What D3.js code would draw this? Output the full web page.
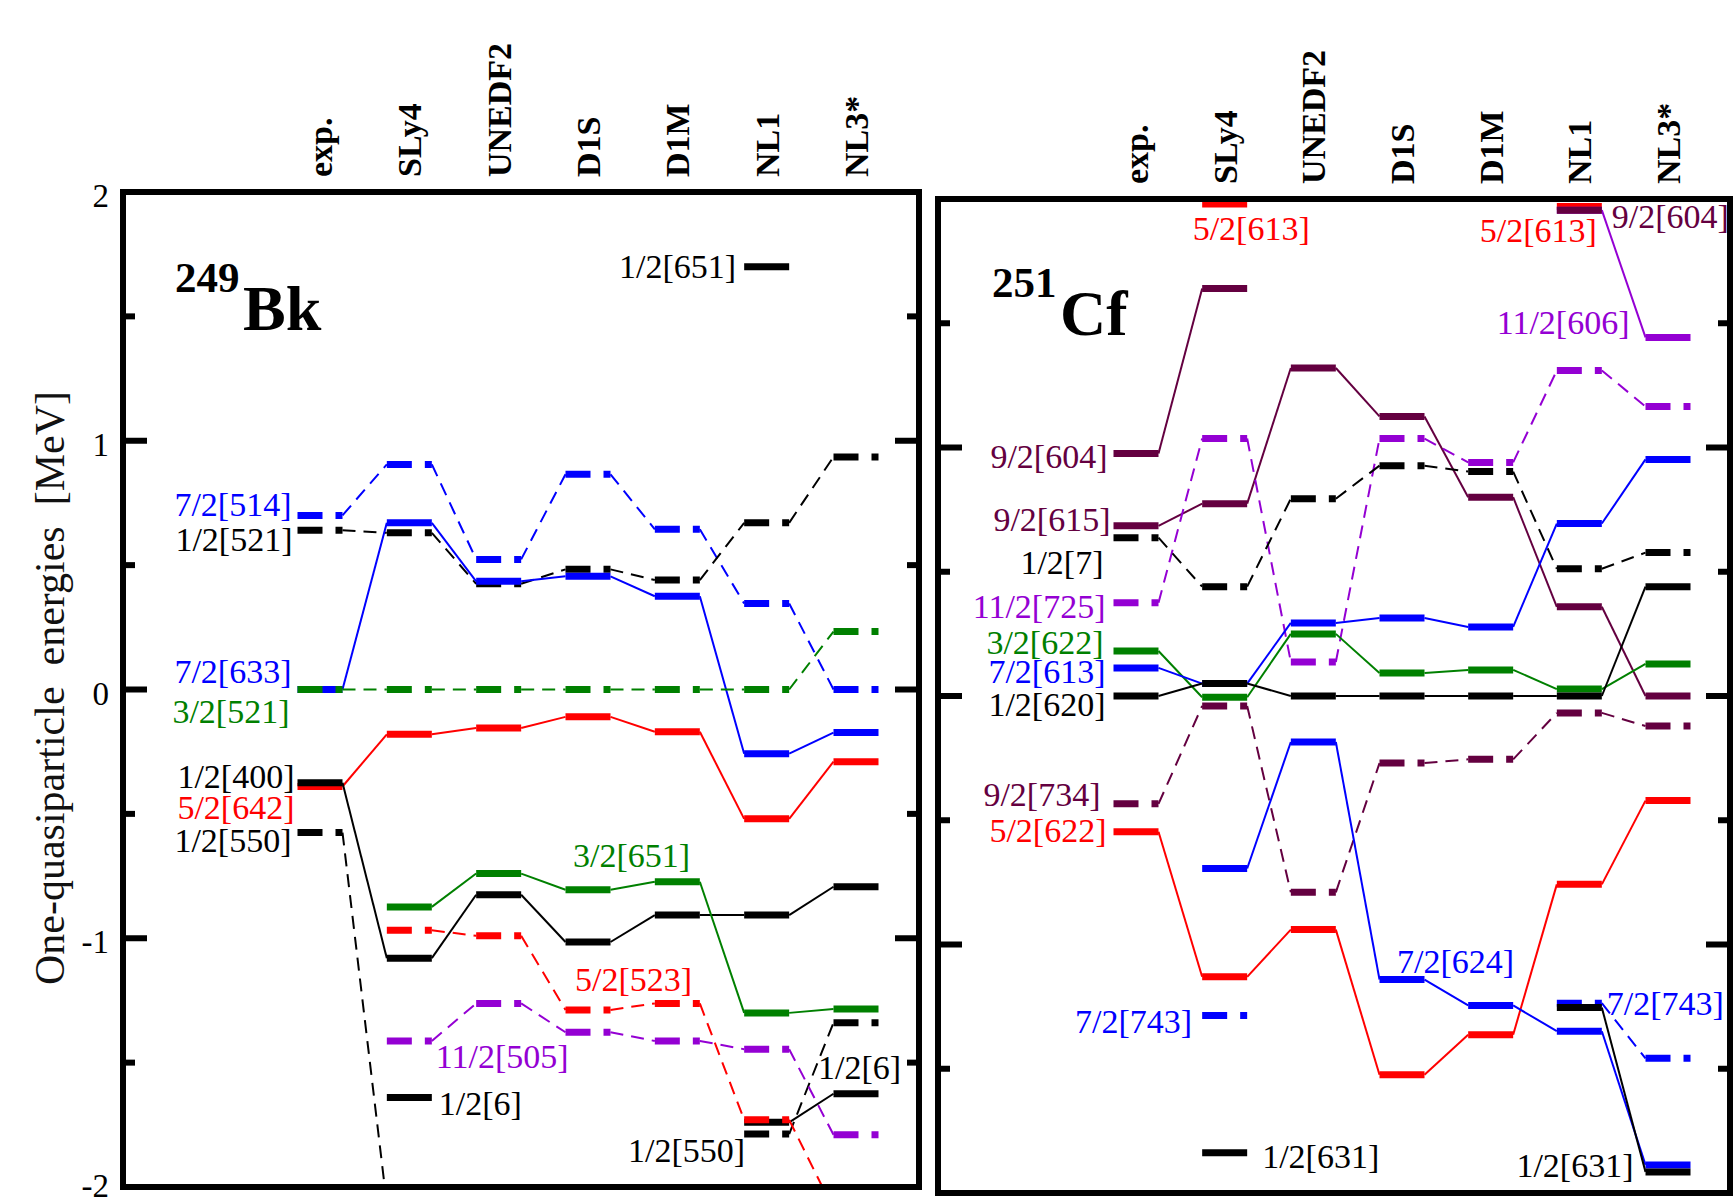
<!DOCTYPE html>
<html>
<head>
<meta charset="utf-8">
<script src="https://cdn.jsdelivr.net/npm/d3@7"></script>
<style>
  body { margin: 0; background: #fff; }
</style>
</head>
<body>
<div id="chart"></div>
<script>
// model columns and axis ticks
const columns = ["exp.", "SLy4", "UNEDF2", "D1S", "D1M", "NL1", "NL3*"];
const majorTicks = [-2, -1, 0, 1, 2];
const minorTicks = [-1.5, -0.5, 0.5, 1.5];

// 249Bk levels (MeV), one value per column, null = not shown
const bk514  = [0.70, 0.905, 0.523, 0.865, 0.644, 0.346, 0.0];
const bk521  = [0.64, 0.63, 0.425, 0.483, 0.44, 0.67, 0.935];
const bk633  = [0.0, 0.67, 0.435, 0.455, 0.375, -0.258, -0.173];
const bk521g = [0.0, 0.0, 0.0, 0.0, 0.0, 0.0, 0.233];
const bk642  = [-0.39, -0.18, -0.155, -0.11, -0.17, -0.52, -0.29];
const bk400  = [-0.375, -1.08, -0.825, -1.015, -0.907, -0.907, -0.793];
const bk550  = [-0.575, -2.07, null, null, null, -1.787, -1.34];
const bk6    = [null, -1.64, null, null, null, -1.74, -1.625];
const bk523  = [null, -0.968, -0.99, -1.288, -1.262, -1.73, -2.09];
const bk651g = [null, -0.874, -0.74, -0.805, -0.773, -1.30, -1.284];
const bk505  = [null, -1.413, -1.262, -1.378, -1.413, -1.446, -1.79];
const bk651  = [null, null, null, null, null, 1.70, null];

// 251Cf levels (MeV)
const cf613r = [null, 1.98, null, null, null, 1.97, null];
const cf606  = [null, null, null, null, null, 1.955, 1.443];
const cf604  = [0.976, 1.64, null, null, null, 1.955, null];
const cf615  = [0.685, 0.774, 1.32, 1.125, 0.80, 0.359, 0.0];
const cf725  = [0.375, 1.036, 0.137, 1.036, 0.94, 1.31, 1.165];
const cf770  = [0.637, 0.44, 0.794, 0.927, 0.903, 0.512, 0.577];
const cf622g = [0.181, -0.005, 0.25, 0.093, 0.105, 0.028, 0.129];
const cf613b = [0.113, 0.05, 0.294, 0.314, 0.278, 0.694, 0.952];
const cf620  = [0.0, 0.05, 0.0, 0.0, 0.0, 0.0, 0.44];
const cf734  = [-0.434, -0.04, -0.79, -0.27, -0.255, -0.068, -0.121];
const cf622r = [-0.546, -1.13, -0.94, -1.524, -1.363, -0.758, -0.421];
const cf624  = [null, -0.694, -0.185, -1.141, -1.245, -1.349, -1.887];
const cf743  = [null, -1.286, null, null, null, -1.236, -1.458];
const cf631  = [null, -1.838, null, null, null, -1.254, -1.915];

const colors = {
    blue: "#0000ff", red: "#ff0000", green: "#008000",
    black: "#000000", violet: "#9400d3", maroon: "#640040"
};

const bkSeries = [
    { v: bk514, c: "blue", dash: true },
    { v: bk521, c: "black", dash: true },
    { v: bk633, c: "blue", dash: false },
    { v: bk521g, c: "green", dash: true },
    { v: bk642, c: "red", dash: false },
    { v: bk400, c: "black", dash: false },
    { v: bk550, c: "black", dash: true },
    { v: bk6, c: "black", dash: false },
    { v: bk523, c: "red", dash: true },
    { v: bk651g, c: "green", dash: false },
    { v: bk505, c: "violet", dash: true },
    { v: bk651, c: "black", dash: false }
];

const cfSeries = [
    { v: cf613r, c: "red", dash: false },
    { v: cf606, c: "violet", dash: false },
    { v: cf604, c: "maroon", dash: false },
    { v: cf615, c: "maroon", dash: false },
    { v: cf725, c: "violet", dash: true },
    { v: cf770, c: "black", dash: true },
    { v: cf622g, c: "green", dash: false },
    { v: cf613b, c: "blue", dash: false },
    { v: cf620, c: "black", dash: false },
    { v: cf734, c: "maroon", dash: true },
    { v: cf622r, c: "red", dash: false },
    { v: cf624, c: "blue", dash: false },
    { v: cf743, c: "blue", dash: true },
    { v: cf631, c: "black", dash: false }
];

// labels: text, colour, series values, column, anchor, reference edge, dx, dy
const bkLabels = [
    ["7/2[514]", "blue", bk514, 0, "end", "L", -6, 1],
    ["1/2[521]", "black", bk521, 0, "end", "L", -5, 21],
    ["7/2[633]", "blue", bk633, 0, "end", "L", -6, -7],
    ["3/2[521]", "green", bk521g, 0, "end", "L", -8, 33],
    ["1/2[400]", "black", bk400, 0, "end", "L", -3, 5],
    ["5/2[642]", "red", bk642, 0, "end", "L", -3, 32],
    ["1/2[550]", "black", bk550, 0, "end", "L", -6, 19],
    ["3/2[651]", "green", bk651g, 3, "start", "C", -15, -23],
    ["5/2[523]", "red", bk523, 3, "start", "C", -13, -19],
    ["11/2[505]", "violet", bk505, 1, "start", "R", 4, 27],
    ["1/2[6]", "black", bk6, 1, "start", "R", 7, 18],
    ["1/2[550]", "black", bk550, 5, "end", "L", 1, 28],
    ["1/2[6]", "black", bk6, 6, "start", "C", -38, -15],
    ["1/2[651]", "black", bk651, 5, "end", "L", -8, 11]
];

const cfLabels = [
    ["5/2[613]", "red", cf613r, 1, "start", "C", -32, 36],
    ["9/2[604]", "maroon", cf604, 0, "end", "L", -6, 15],
    ["9/2[615]", "maroon", cf615, 0, "end", "L", -3, 5],
    ["1/2[7]", "black", cf770, 0, "end", "L", -10, 36],
    ["11/2[725]", "violet", cf725, 0, "end", "L", -8, 15],
    ["3/2[622]", "green", cf622g, 0, "end", "L", -10, 3],
    ["7/2[613]", "blue", cf613b, 0, "end", "L", -8, 15],
    ["1/2[620]", "black", cf620, 0, "end", "L", -8, 20],
    ["9/2[734]", "maroon", cf734, 0, "end", "L", -13, 2],
    ["5/2[622]", "red", cf622r, 0, "end", "L", -7, 10],
    ["7/2[743]", "blue", cf743, 1, "end", "L", -10, 17],
    ["1/2[631]", "black", cf631, 1, "start", "R", 15, 15],
    ["7/2[624]", "blue", cf624, 3, "start", "C", -5, -7],
    ["7/2[743]", "blue", cf743, 5, "start", "R", 5, 12],
    ["1/2[631]", "black", cf631, 6, "end", "L", -12, 5],
    ["5/2[613]", "red", cf613r, 5, "end", "R", -5, 36],
    ["9/2[604]", "maroon", cf604, 5, "start", "R", 10, 18],
    ["11/2[606]", "violet", cf606, 6, "end", "L", -16, -3]
];

const width = 1734, height = 1200;
const halfW = 22.5;
const serif = "'Liberation Serif', 'DejaVu Serif', serif";

const svg = d3.select("#chart").append("svg")
    .attr("width", width)
    .attr("height", height)
    .attr("font-family", serif)
    .style("background", "#fff");

function drawPanel(cfg) {
    const x = d3.scalePoint().domain(columns).range(cfg.xRange);
    const y = d3.scaleLinear().domain([-2, 2]).range(cfg.yRange);
    const [fx0, fx1] = cfg.frameX;
    const fy0 = y(2), fy1 = y(-2);

    const clipId = "clip-" + cfg.id;
    svg.append("clipPath").attr("id", clipId)
        .append("rect")
        .attr("x", fx0).attr("y", fy0)
        .attr("width", fx1 - fx0).attr("height", fy1 - fy0);

    const g = svg.append("g").attr("clip-path", `url(#${clipId})`);

    cfg.series.forEach(s => {
        const col = colors[s.c];
        // connectors between neighbouring columns
        for (let i = 0; i < columns.length - 1; i++) {
            if (s.v[i] == null || s.v[i + 1] == null) continue;
            g.append("line")
                .attr("x1", x(columns[i]) + halfW).attr("y1", y(s.v[i]))
                .attr("x2", x(columns[i + 1]) - halfW).attr("y2", y(s.v[i + 1]))
                .attr("stroke", col)
                .attr("stroke-width", 2)
                .attr("stroke-dasharray", s.dash ? "13,8" : null);
        }
        // levels
        s.v.forEach((v, i) => {
            if (v == null) return;
            g.append("line")
                .attr("x1", x(columns[i]) - halfW).attr("y1", y(v))
                .attr("x2", x(columns[i]) + halfW).attr("y2", y(v))
                .attr("stroke", col)
                .attr("stroke-width", 7)
                .attr("stroke-dasharray", s.dash ? "25,13" : null);
        });
    });

    // labels
    cfg.labels.forEach(([text, c, vals, ci, anchor, ref, dx, dy]) => {
        const cx = x(columns[ci]);
        const bx = ref === "L" ? cx - halfW : ref === "R" ? cx + halfW : cx;
        svg.append("text")
            .attr("x", bx + dx)
            .attr("y", y(vals[ci]) + dy)
            .attr("text-anchor", anchor)
            .attr("font-family", serif)
            .attr("font-size", 34)
            .attr("fill", colors[c])
            .text(text);
    });

    // frame
    svg.append("rect")
        .attr("x", fx0).attr("y", fy0)
        .attr("width", fx1 - fx0).attr("height", fy1 - fy0)
        .attr("fill", "none")
        .attr("stroke", "#000")
        .attr("stroke-width", 6);

    // inward ticks on both sides
    const ticks = svg.append("g").attr("stroke", "#000").attr("stroke-width", 6);
    majorTicks.concat(minorTicks).forEach(t => {
        const len = majorTicks.includes(t) ? 24 : 12;
        ticks.append("line")
            .attr("x1", fx0).attr("x2", fx0 + len)
            .attr("y1", y(t)).attr("y2", y(t));
        ticks.append("line")
            .attr("x1", fx1 - len).attr("x2", fx1)
            .attr("y1", y(t)).attr("y2", y(t));
    });

    if (cfg.tickLabels) {
        majorTicks.forEach(t => {
            svg.append("text")
                .attr("x", fx0 - 14)
                .attr("y", Math.min(y(t) + 15, height - 3))
                .attr("text-anchor", "end")
                .attr("font-family", serif)
                .attr("font-size", 33)
                .text(t);
        });
    }

    // column names
    columns.forEach(c => {
        svg.append("text")
            .attr("transform", `translate(${x(c)},${fy0 - 15}) rotate(-90)`)
            .attr("dy", "0.35em")
            .attr("font-family", serif)
            .attr("font-size", 34)
            .attr("font-weight", "bold")
            .text(c);
    });

    // nucleus name
    svg.append("text")
        .attr("x", fx0 + cfg.title.dx).attr("y", fy0 + cfg.title.dy)
        .attr("font-family", serif)
        .attr("font-size", 43).attr("font-weight", "bold")
        .text(cfg.title.mass);
    svg.append("text")
        .attr("x", fx0 + cfg.title.dx + 68).attr("y", fy0 + cfg.title.dy + 38)
        .attr("font-family", serif)
        .attr("font-size", 64).attr("font-weight", "bold")
        .text(cfg.title.symbol);
}

drawPanel({
    id: "bk",
    xRange: [320, 856],
    yRange: [1187, 192],
    frameX: [123, 919],
    series: bkSeries,
    labels: bkLabels,
    tickLabels: true,
    title: { mass: "249", symbol: "Bk", dx: 52, dy: 100 }
});

drawPanel({
    id: "cf",
    xRange: [1136, 1668],
    yRange: [1193, 199],
    frameX: [938, 1730],
    series: cfSeries,
    labels: cfLabels,
    tickLabels: false,
    title: { mass: "251", symbol: "Cf", dx: 54, dy: 98 }
});

svg.append("text")
    .attr("transform", "translate(64,688) rotate(-90)")
    .attr("text-anchor", "middle")
    .attr("font-family", serif)
    .attr("font-size", 42)
    .attr("fill", "#111")
    .attr("xml:space", "preserve")
    .style("white-space", "pre")
    .text("One-quasiparticle  energies  [MeV]");
</script>
</body>
</html>
